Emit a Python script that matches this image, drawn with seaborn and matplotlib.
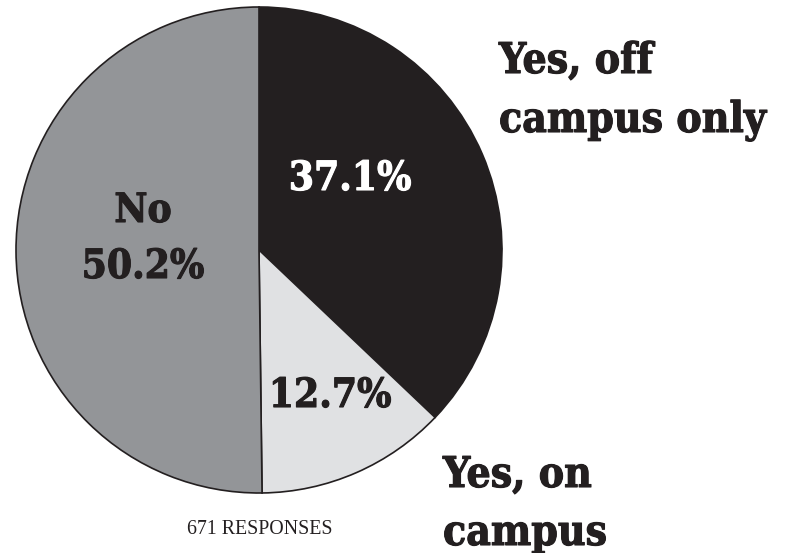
import matplotlib
matplotlib.use("Agg")
import matplotlib.pyplot as plt
import matplotlib.patheffects as pe
import seaborn as sns

# Survey answers, clockwise from 12 o'clock
categories = ["Yes, off campus only", "Yes, on campus", "No"]
shares = [37.1, 12.7, 50.2]
colors = ["#231f20", "#e0e1e3", "#939598"]
responses = 671

sns.set_theme(style="white")
plt.rcParams["font.family"] = ["DejaVu Serif"]

W, H = 800, 553
fig = plt.figure(figsize=(W / 100, H / 100), dpi=100)
ax = fig.add_axes([0, 0, 1, 1])

cx, cy, r = 259, H - 250, 243
ax.pie(shares, colors=colors, startangle=90, counterclock=False,
       center=(cx, cy), radius=r,
       wedgeprops=dict(edgecolor="#231f20", linewidth=1.2))
ax.set_xlim(0, W)
ax.set_ylim(0, H)
ax.set_aspect("equal")
ax.axis("off")


def y(px):
    return H - px


ink = "#231f20"


def heavy(color):
    return [pe.withStroke(linewidth=0.8, foreground=color)]


inner = dict(fontweight="bold", fontsize=29, fontstretch="condensed",
             va="baseline", ha="center")
outer = dict(fontweight="bold", fontsize=30.5, fontstretch="condensed",
             va="baseline", ha="left")

# value labels inside the wedges
ax.text(350, y(190), f"{shares[0]}%", color="white",
        path_effects=heavy("white"), **inner)
ax.text(330, y(407), f"{shares[1]}%", color=ink,
        path_effects=heavy(ink), **inner)
ax.text(143, y(222), "No", color=ink, path_effects=heavy(ink), **inner)
ax.text(143, y(278), f"{shares[2]}%", color=ink,
        path_effects=heavy(ink), **inner)

# category names beside the pie
for txt, xx, yy in [("Yes, off", 499, 73), ("campus only", 499, 132),
                    ("Yes, on", 443, 487), ("campus", 443, 545)]:
    ax.text(xx, y(yy), txt, color=ink, path_effects=heavy(ink), **outer)

ax.text(260, y(534), f"{responses} RESPONSES", ha="center", va="baseline",
        fontsize=14.3, color=ink, family="Liberation Serif")

fig.savefig("out.png", dpi=100)
